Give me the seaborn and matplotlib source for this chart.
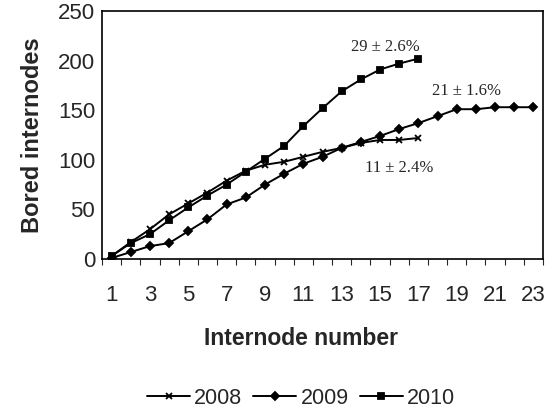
import numpy as np
import pandas as pd
import matplotlib
matplotlib.use("Agg")
import matplotlib.pyplot as plt
import seaborn as sns
from matplotlib.ticker import FixedLocator

#%% data
internode = list(range(1, 24))
bored_2008 = [3, 17, 30, 45, 56, 67, 79, 89, 95, 98, 103, 108, 112, 117, 120, 120, 122]
bored_2009 = [1, 7, 13, 16, 28, 40, 55, 62, 75, 86, 96, 103, 112, 118, 124, 131, 137,
              144, 151, 151, 153, 153, 153]
bored_2010 = [3, 16, 25, 39, 52, 64, 75, 88, 101, 114, 134, 152, 169, 181, 191, 197, 202]
years = ['2008', '2009', '2010']
year_markers = ['x', 'D', 's']
notes = ['11 \u00b1 2.4%', '21 \u00b1 1.6%', '29 \u00b1 2.6%']
note_xy = [(16.0, 92), (19.5, 169), (15.3, 214)]
xtick_labels = [str(i) for i in range(1, 24, 2)]

sns.set_style('white')
plt.rcParams['font.family'] = ['Liberation Sans', 'DejaVu Sans']

fig = plt.figure(figsize=(5.6, 4.12), dpi=100)
ax = fig.add_axes([102/560, 1 - 259/412, (543 - 102)/560, (259 - 11)/412])

# one series at a time (x is line art, D and s are filled)
for yr, vals, mk in zip(years, [bored_2008, bored_2009, bored_2010], year_markers):
    d = pd.DataFrame({'Internode': internode[:len(vals)], 'Bored': vals})
    sns.lineplot(data=d, x='Internode', y='Bored', color='black', marker=mk,
                 markersize=7.5 if mk == 'x' else 6, linewidth=1.4,
                 markeredgewidth=1.3, markeredgecolor='black', label=yr, ax=ax)

ax.set_xlim(0.5, 23.5)
ax.set_ylim(0, 250)
ax.set_yticks([0, 50, 100, 150, 200, 250])
ax.set_xticks(range(1, 24, 2))
ax.set_xticklabels(xtick_labels)
ax.xaxis.set_minor_locator(FixedLocator(np.arange(0.5, 24, 1)))
ax.tick_params(axis='x', which='major', length=0, pad=19, labelsize=16)
ax.tick_params(axis='x', which='minor', length=4, width=0.8, direction='out', bottom=True)
ax.tick_params(axis='y', length=0, pad=5, labelsize=16)

for s in ax.spines.values():
    s.set_color('black')
    s.set_linewidth(1.2)

ax.set_xlabel('Internode number', fontsize=16.5, fontweight='bold')
ax.xaxis.set_label_coords((301 - 102) / (543 - 102), -(327 - 259) / (259 - 11))
ax.set_ylabel('Bored internodes', fontsize=17, fontweight='bold', labelpad=10)

for txt, (x, y) in zip(notes, note_xy):
    ax.text(x, y, txt, ha='center', va='center', fontsize=12,
            family=['Liberation Serif', 'DejaVu Serif'])

handles, labels = ax.get_legend_handles_labels()
for h in handles:
    h.set_markersize(4)
ax.legend(handles, labels, loc='center', bbox_to_anchor=(301/560, 1 - 398/412),
          bbox_transform=fig.transFigure, ncol=3, frameon=False, fontsize=15.5,
          handlelength=2.0, handletextpad=0.2, columnspacing=0.5)

fig.savefig('out.png', dpi=100)
